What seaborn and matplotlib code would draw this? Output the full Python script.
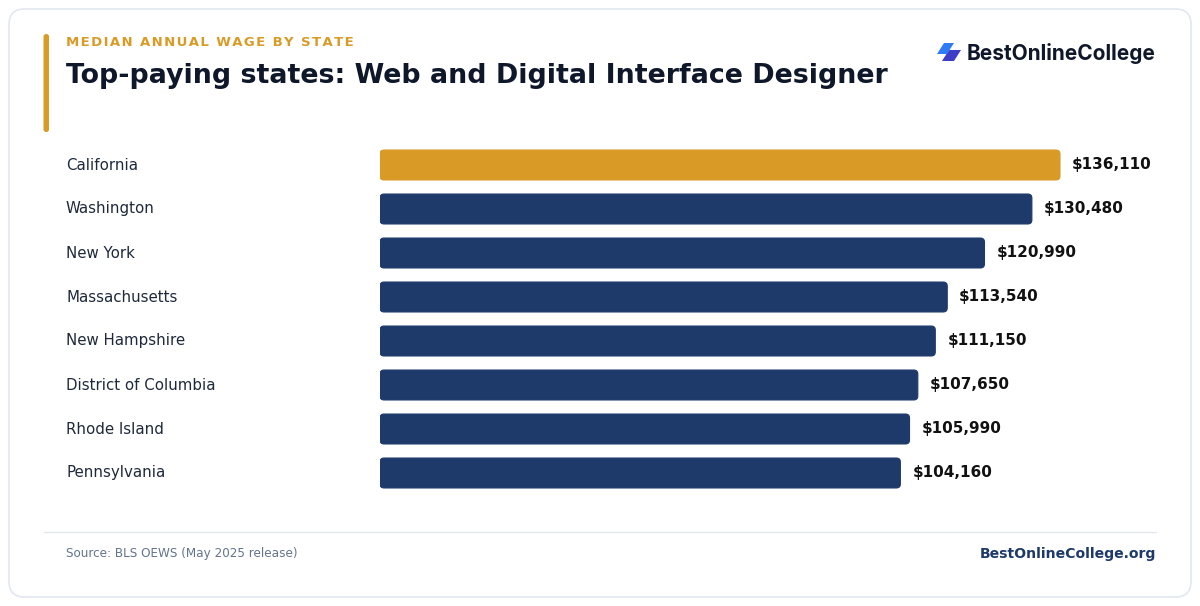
import matplotlib
matplotlib.use("Agg")
import matplotlib.pyplot as plt
import matplotlib.transforms as mtransforms
from matplotlib.patches import FancyBboxPatch, Polygon
import pandas as pd
import seaborn as sns

# data
states = ['California', 'Washington', 'New York', 'Massachusetts', 'New Hampshire',
          'District of Columbia', 'Rhode Island', 'Pennsylvania']
wages = [136110, 130480, 120990, 113540, 111150, 107650, 105990, 104160]
highlight = 'California'

ORANGE = '#D99A26'
NAVY = '#1E3A6B'
INK = '#0F172A'
GREY = '#64748B'
LINE = '#E2E8F0'

df = pd.DataFrame({'state': states, 'wage': wages})
df['group'] = ['top' if s == highlight else 'rest' for s in states]

sns.set_theme(style='white')
plt.rcParams['font.family'] = ['DejaVu Sans']

W, H = 1200, 606
fig = plt.figure(figsize=(12, 6.06), dpi=100)
fig.patch.set_facecolor('white')

def fx(px):
    return px / W

def fy(py):
    return 1 - py / H

# card (behind everything)
card = FancyBboxPatch((fx(9), fy(597)), fx(1182), 588 / H,
                      boxstyle='round,pad=0,rounding_size=0.013',
                      mutation_aspect=W / H,
                      transform=fig.transFigure, facecolor='white',
                      edgecolor=LINE, linewidth=1.2, zorder=-10)
fig.patches.append(card)

# accent bar
accent = FancyBboxPatch((fx(43.5), fy(132)), fx(5.5), 98 / H,
                        boxstyle='round,pad=0,rounding_size=0.0022',
                        mutation_aspect=W / H,
                        transform=fig.transFigure, facecolor=ORANGE,
                        edgecolor='none', zorder=1)
fig.patches.append(accent)

# header text
kicker = '\u200a'.join('MEDIAN ANNUAL WAGE BY STATE')
fig.text(fx(66), fy(42), kicker, fontsize=9.5, fontweight='bold', color=ORANGE,
         va='center', ha='left')
fig.text(fx(66), fy(76), 'Top-paying states: Web and Digital Interface Designer',
         fontsize=19.4, fontweight='bold', color=INK, va='center', ha='left')

# logo
icon1 = Polygon([[fx(944), fy(43)], [fx(954), fy(43)], [fx(947), fy(54)], [fx(937), fy(54)]],
                closed=True, transform=fig.transFigure, facecolor='#2F7BF5', edgecolor='none')
icon2 = Polygon([[fx(949), fy(50)], [fx(961), fy(50)], [fx(954), fy(61)], [fx(942), fy(61)]],
                closed=True, transform=fig.transFigure, facecolor='#3D3DC8', edgecolor='none')
fig.patches.append(icon2)
fig.patches.append(icon1)
fig.text(fx(1156), fy(53), 'BestOnlineCollege', fontsize=15, fontweight='bold',
         family=['Inter', 'DejaVu Sans'], color=INK, va='center', ha='right')

# chart axes
ax = fig.add_axes([fx(380), 1 - 495 / H, (1156 - 380) / W, 352 / H])
ax.set_facecolor('none')
sns.barplot(data=df, x='wage', y='state', hue='group', dodge=False,
            palette={'top': ORANGE, 'rest': NAVY}, width=0.68, legend=False,
            saturation=1, ax=ax)

px_x = 136110 / 680.0          # dollars per pixel
px_y = 8.0 / 352.0             # category units per pixel
ax.set_xlim(0, 776 * px_x)
ax.set_ylim(7.5, -0.5)

# rounded bars
for p in list(ax.patches):
    x0, y0 = p.get_x(), p.get_y()
    w, h = p.get_width(), p.get_height()
    if w <= 0:
        continue
    fc = p.get_facecolor()
    p.set_visible(False)
    rb = FancyBboxPatch((x0, y0), w, h,
                        boxstyle='round,pad=0,rounding_size=%f' % (4 * px_x),
                        mutation_aspect=px_y / px_x,
                        facecolor=fc, edgecolor=fc, linewidth=0.8, zorder=2)
    ax.add_patch(rb)

# value labels
for i, v in enumerate(wages):
    ax.annotate('${:,}'.format(v), xy=(v, i), xytext=(12, 0), textcoords='offset pixels',
                ha='left', va='center', fontsize=11, fontweight='bold', color='#111111')

# category labels
trans = mtransforms.blended_transform_factory(fig.transFigure, ax.transData)
for i, s in enumerate(states):
    ax.text(fx(66), i, s, transform=trans, ha='left', va='center',
            fontsize=10.8, color='#1E293B', clip_on=False)

ax.set_xticks([])
ax.set_yticks([])
ax.set_xlabel('')
ax.set_ylabel('')
sns.despine(ax=ax, left=True, bottom=True)

# footer
fig.add_artist(plt.Line2D([fx(44), fx(1156)], [fy(532), fy(532)],
                          transform=fig.transFigure, color=LINE, linewidth=1))
fig.text(fx(66), fy(554), 'Source: BLS OEWS (May 2025 release)', fontsize=8.65,
         color=GREY, va='center', ha='left')
fig.text(fx(1156), fy(554), 'BestOnlineCollege.org', fontsize=10.1, fontweight='bold',
         color=NAVY, va='center', ha='right')

fig.savefig('out.png', dpi=100, facecolor='white')
